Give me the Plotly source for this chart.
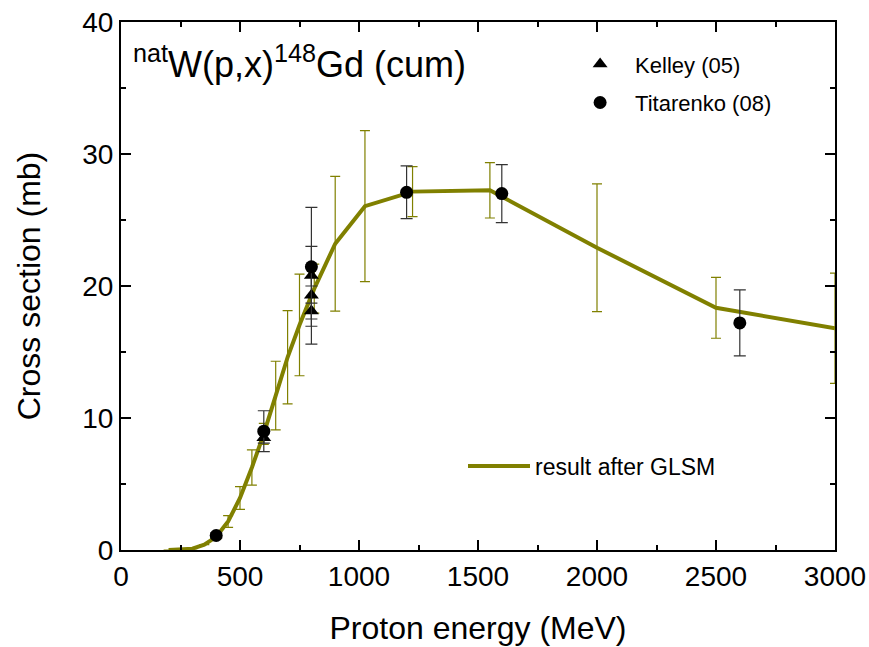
import plotly.graph_objects as go

# GLSM result (olive curve with error bars)
glsm_E = [200, 250, 300, 350, 400, 450, 500, 550, 600, 650, 700, 750, 812, 900, 1025, 1225, 1550, 2000, 2500, 3000]
glsm_xs = [0, 0.02, 0.1, 0.4, 1.0, 2.16, 3.94, 6.25, 8.8, 11.7, 14.6, 17.05, 19.8, 23.2, 26.05, 27.15, 27.25, 22.9, 18.35, 16.8]
glsm_err = [0, 0, 0, 0, 0.2, 0.44, 0.86, 1.33, 0.8, 2.6, 3.53, 3.85, 1.85, 5.1, 5.72, 1.9, 2.1, 4.84, 2.31, 4.17]

# Kelley (05)
kel_E = [600, 800, 800, 800]
kel_xs = [8.5, 20.8, 19.3, 18.1]
kel_err = [0.4, 0.8, 3.7, 0.6]

# Titarenko (08)
tit_E = [400, 600, 800, 1200, 1600, 2600]
tit_xs = [1.1, 9.0, 21.45, 27.1, 27.0, 17.2]
tit_err = [0.2, 1.55, 4.5, 2.0, 2.2, 2.5]

FONT = "Arial, Liberation Sans, sans-serif"
OLIVE = "#808000"

fig = go.Figure()

fig.add_trace(go.Scatter(
    x=glsm_E, y=glsm_xs, mode="lines", name="result after GLSM",
    line=dict(color=OLIVE, width=4),
    error_y=dict(type="data", array=glsm_err, color=OLIVE, thickness=1.2, width=5),
    legend="legend2",
))

fig.add_trace(go.Scatter(
    x=kel_E, y=kel_xs, mode="markers", name="Kelley (05)",
    marker=dict(symbol="triangle-up", size=13, color="black"),
    error_y=dict(type="data", array=kel_err, color="#333333", thickness=1.2, width=6),
    legend="legend", legendgroup="k",
))

fig.add_trace(go.Scatter(
    x=tit_E, y=tit_xs, mode="markers", name="Titarenko (08)",
    marker=dict(symbol="circle", size=13, color="black"),
    error_y=dict(type="data", array=tit_err, color="#333333", thickness=1.2, width=6),
    legend="legend", legendgroup="t",
))

axis_common = dict(
    showline=True, linecolor="black", linewidth=2, mirror="ticks",
    ticks="inside", ticklen=10, tickwidth=2, tickcolor="black",
    showgrid=False, zeroline=False, automargin=False,
    tickfont=dict(family=FONT, size=28, color="black"),
)

fig.update_xaxes(
    range=[0, 3000], tick0=0, dtick=500,
    minor=dict(ticks="inside", ticklen=5, tickwidth=2, tickcolor="black", dtick=250, tick0=0, showgrid=False),
    title=dict(text="Proton energy (MeV)", font=dict(family=FONT, size=32, color="black"), standoff=26),
    **axis_common,
)
fig.update_yaxes(
    range=[0, 40], tick0=0, dtick=10,
    minor=dict(ticks="inside", ticklen=5, tickwidth=2, tickcolor="black", dtick=5, tick0=0, showgrid=False),
    title=dict(text="Cross section (mb)", font=dict(family=FONT, size=32, color="black"), standoff=32),
    **axis_common,
)

fig.add_annotation(
    xref="paper", yref="paper", x=0.014, y=0.925, xanchor="left", yanchor="middle",
    text="<sup>nat</sup>W(p,x)<sup>148</sup>Gd (cum)", showarrow=False,
    font=dict(family=FONT, size=36, color="black"),
)

fig.update_layout(
    width=869, height=647,
    margin=dict(l=121, r=34, t=22, b=97),
    paper_bgcolor="white", plot_bgcolor="white",
    showlegend=True,
    legend=dict(
        x=0.622, y=0.96, xanchor="left", yanchor="top",
        bgcolor="rgba(0,0,0,0)", font=dict(family=FONT, size=22, color="black"),
        itemwidth=60, traceorder="grouped", tracegroupgap=7,
    ),
    legend2=dict(
        x=0.479, y=0.159, xanchor="left", yanchor="middle",
        bgcolor="rgba(0,0,0,0)", font=dict(family=FONT, size=23, color="black"),
        itemwidth=62,
    ),
)

fig.write_html("out.html")
